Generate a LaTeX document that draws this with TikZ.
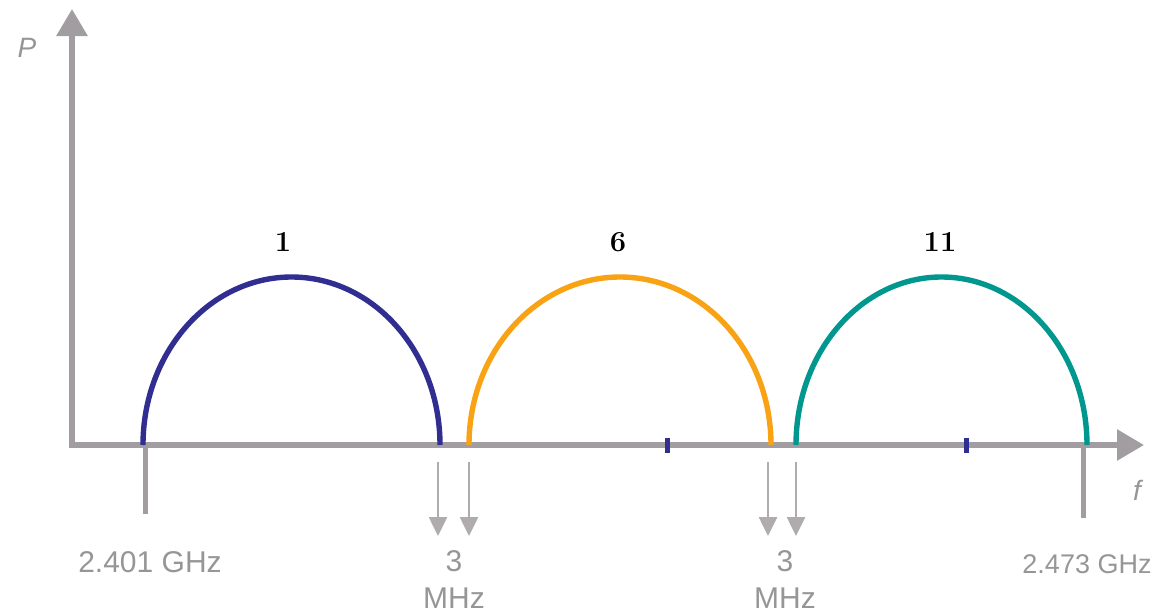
\documentclass[tikz,border=0pt]{standalone}
\usepackage{fontspec}
\setsansfont{Liberation Sans}
\usetikzlibrary{arrows.meta}
\definecolor{axisgray}{RGB}{162,157,160}
\definecolor{lblgray}{RGB}{150,150,150}
\definecolor{chone}{RGB}{48,46,145}
\definecolor{chsix}{RGB}{248,162,20}
\definecolor{cheleven}{RGB}{0,152,142}
\begin{document}
\begin{tikzpicture}[x=1pt,y=-1pt,
  axisline/.style={draw=axisgray,line width=5.8pt,-{Triangle[length=27pt,width=30pt]}},
  tickline/.style={draw=axisgray,line width=5pt},
  gaparrow/.style={draw=axisgray!85,line width=2.6pt,-{Triangle[length=19pt,width=18pt]}},
  chan/.style={line width=5.4pt},
  lbl/.style={text=lblgray,font=\sffamily\fontsize{30}{34}\selectfont,inner sep=0pt},
  axlbl/.style={text=lblgray,font=\sffamily\itshape\fontsize{28}{32}\selectfont,inner sep=0pt},
  chlbl/.style={font=\bfseries\fontsize{29}{33}\selectfont,inner sep=0pt}]
\useasboundingbox (0,0) rectangle (1151,613);
% axes
\coordinate (O) at (72,445);
\coordinate (ytop) at (72,9);
\coordinate (xend) at (1144,445);
\draw[axisline] ([yshift=-2.9pt]O) -- (ytop);
\draw[axisline] ([xshift=-2.9pt]O) -- (xend);
\node[axlbl] (P) at (27,48) {P};
\node[axlbl] (f) at (1137,490) {f};
% band limits
\coordinate (a1) at (145,445);
\coordinate (a2) at (145,514);
\coordinate (b1) at (1083,445);
\coordinate (b2) at (1083,518);
\draw[tickline] (a1) -- (a2);
\draw[tickline] (b1) -- (b2);
\node[lbl] (lo) at (150,562) {2.401 GHz};
\node[lbl,font=\sffamily\fontsize{27}{30}\selectfont] (hi) at (1087,564) {2.473 GHz};
% channels
\coordinate (c1s) at (143,445);
\coordinate (c6s) at (469,445);
\coordinate (c11s) at (796,445);
\draw[chan,draw=chone] (c1s) arc[start angle=180,end angle=0,x radius=148.5pt,y radius=168pt];
\draw[chan,draw=chsix] (c6s) arc[start angle=180,end angle=0,x radius=151pt,y radius=168pt];
\draw[chan,draw=cheleven] (c11s) arc[start angle=180,end angle=0,x radius=145.5pt,y radius=168pt];
\node[chlbl] (n1) at (283,242) {1};
\node[chlbl] (n6) at (618,242) {6};
\node[chlbl] (n11) at (940,242) {11};
% centre marks
\fill[chone] (664.5,438) rectangle (669.5,453);
\fill[chone] (963.5,438) rectangle (968.5,453);
% guard-band arrows
\coordinate (g1s) at (438,462); \coordinate (g1e) at (438,536);
\coordinate (g2s) at (469,462); \coordinate (g2e) at (469,536);
\coordinate (g3s) at (768,462); \coordinate (g3e) at (768,536);
\coordinate (g4s) at (796,462); \coordinate (g4e) at (796,536);
\draw[gaparrow] (g1s) -- (g1e);
\draw[gaparrow] (g2s) -- (g2e);
\draw[gaparrow] (g3s) -- (g3e);
\draw[gaparrow] (g4s) -- (g4e);
\node[lbl] (t1) at (454,561) {3};
\node[lbl] (m1) at (454,598) {MHz};
\node[lbl] (t2) at (785,561) {3};
\node[lbl] (m2) at (785,598) {MHz};
\end{tikzpicture}
\end{document}
